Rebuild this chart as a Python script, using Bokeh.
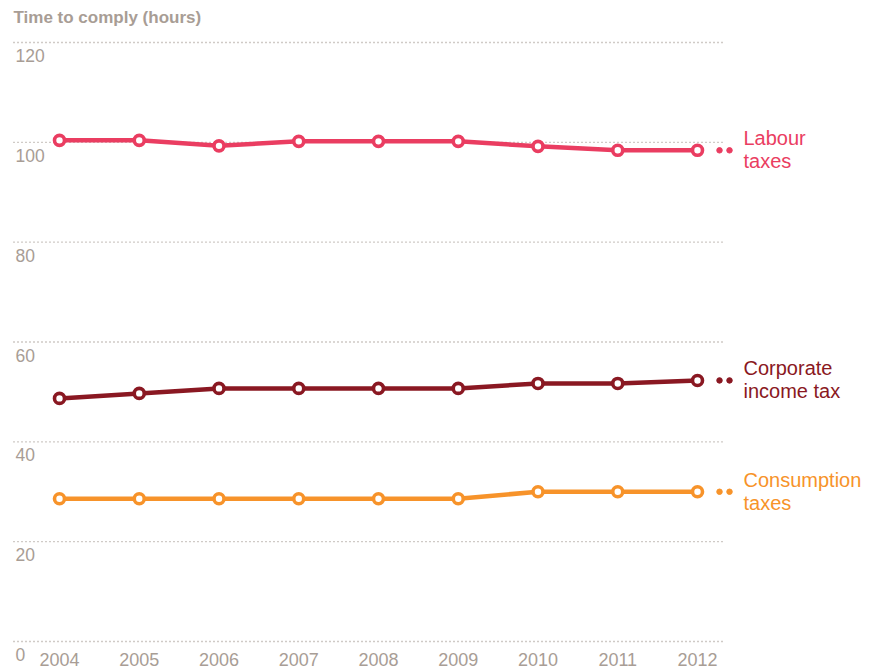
from bokeh.plotting import figure
from bokeh.models import Range1d
from bokeh.core.properties import value
from bokeh.embed import file_html
from bokeh.resources import INLINE

years = [2004, 2005, 2006, 2007, 2008, 2009, 2010, 2011, 2012]
labour = [100.4, 100.4, 99.3, 100.2, 100.2, 100.2, 99.2, 98.4, 98.4]
corporate = [48.7, 49.7, 50.7, 50.7, 50.7, 50.7, 51.7, 51.7, 52.3]
consumption = [28.6, 28.6, 28.6, 28.6, 28.6, 28.6, 30.0, 30.0, 30.0]
y_ticks = [0, 20, 40, 60, 80, 100, 120]
y_tick_labels = ["0", "20", "40", "60", "80", "100", "120"]
series_names = [["Labour", "taxes"], ["Corporate", "income tax"], ["Consumption", "taxes"]]
title_text = "Time to comply (hours)"

colors = ["#EA3D61", "#8A1822", "#F7932A"]
grey = "#A89D95"
grid_grey = "#A0968E"
FONT = "Liberation Sans"

W, H = 870, 670
px_year = 79.75
x0 = 2004 - 59 / px_year
x1 = x0 + W / px_year
ppu = 599 / 120
y_top = 120 + 42 / ppu
y_bot = -(H - 641) / ppu

p = figure(width=W, height=H, output_backend="svg", toolbar_location=None,
           x_range=Range1d(x0, x1), y_range=Range1d(y_bot, y_top),
           min_border=0, min_border_left=0, min_border_right=0,
           min_border_top=0, min_border_bottom=0)
p.axis.visible = False
p.grid.visible = False
p.outline_line_color = None
p.background_fill_color = "white"
p.border_fill_color = "white"

# dotted gridlines
gx0 = x0 + 13 / px_year
gx1 = x0 + 722 / px_year
p.segment(x0=[gx0] * len(y_ticks), x1=[gx1] * len(y_ticks), y0=y_ticks, y1=y_ticks,
          line_color=grid_grey, line_width=1.4, line_dash="1 3")

# y tick labels
p.text(x=[x0] * len(y_ticks), y=y_ticks, text=y_tick_labels, x_offset=15, y_offset=13,
       text_font=value(FONT), text_font_size="17.5px", text_color=grey,
       text_align="left", text_baseline="middle")

# x tick labels
p.text(x=years, y=[0] * len(years), text=[str(y) for y in years], y_offset=18,
       text_font=value(FONT), text_font_size="18px", text_color=grey,
       text_align="center", text_baseline="middle")

# title
p.text(x=[x0], y=[120], text=[title_text], x_offset=13, y_offset=-25,
       text_font=value(FONT), text_font_size="17px", text_font_style="bold",
       text_color=grey, text_align="left", text_baseline="middle")

for vals, col, names in zip([labour, corporate, consumption], colors, series_names):
    p.line(years, vals, line_color=col, line_width=4.5)
    p.scatter(years, vals, size=10, fill_color="white", line_color=col, line_width=3.6)
    last = vals[-1]
    p.scatter([years[-1] + 22 / px_year, years[-1] + 32 / px_year], [last, last],
              size=5.5, fill_color=col, line_color=col)
    lx = years[-1] + 46 / px_year
    p.text(x=[lx, lx], y=[last, last], text=names, y_offset=[-12, 11],
           text_font=value(FONT), text_font_size="20px", text_color=col,
           text_align="left", text_baseline="middle")

open("out.html", "w").write(file_html(p, INLINE))
